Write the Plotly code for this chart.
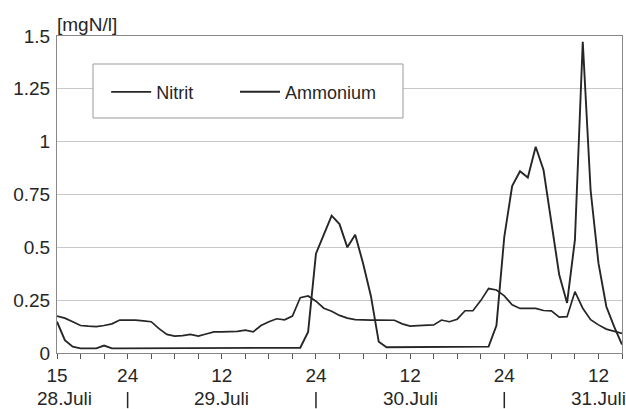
import plotly.graph_objects as go

# hours since 28.Juli 15:00
hours = list(range(0, 73))

nitrit = [0.175, 0.165, 0.148, 0.130, 0.127, 0.125, 0.130, 0.138, 0.156, 0.156,
          0.156, 0.152, 0.148, 0.115, 0.088, 0.080, 0.082, 0.088, 0.080, 0.090,
          0.100, 0.100, 0.100, 0.102, 0.108, 0.100, 0.130, 0.148, 0.162, 0.157,
          0.175, 0.262, 0.270, 0.245, 0.212, 0.198, 0.178, 0.165, 0.158, 0.156,
          0.156, 0.156, 0.156, 0.155, 0.138, 0.127, 0.130, 0.131, 0.133, 0.156,
          0.148, 0.160, 0.200, 0.200, 0.248, 0.305, 0.298, 0.270, 0.228, 0.211,
          0.211, 0.211, 0.201, 0.199, 0.170, 0.172, 0.290, 0.212, 0.158, 0.133,
          0.113, 0.102, 0.093]

ammonium = [0.148, 0.061, 0.030, 0.022, 0.022, 0.022, 0.035, 0.022, 0.022, 0.022,
            0.022, 0.022, 0.022, 0.022, 0.022, 0.022, 0.022, 0.022, 0.022, 0.022,
            0.022, 0.022, 0.022, 0.022, 0.022, 0.022, 0.022, 0.022, 0.022, 0.022,
            0.022, 0.025, 0.100, 0.470, 0.560, 0.650, 0.610, 0.500, 0.560, 0.425,
            0.270, 0.053, 0.027, 0.027, 0.027, 0.027, 0.027, 0.027, 0.027, 0.027,
            0.027, 0.027, 0.027, 0.027, 0.028, 0.030, 0.130, 0.550, 0.790, 0.860,
            0.830, 0.976, 0.866, 0.620, 0.370, 0.237, 0.535, 1.473, 0.770, 0.425,
            0.220, 0.125, 0.040]

x_tickvals = list(range(0, 73, 3))
x_labels = {0: "15", 9: "24", 21: "12", 33: "24", 45: "12", 57: "24", 69: "12"}
x_ticktext = [x_labels.get(v, "") for v in x_tickvals]

y_tickvals = [0, 0.25, 0.5, 0.75, 1, 1.25, 1.5]
y_ticktext = ["0", "0.25", "0.5", "0.75", "1", "1.25", "1.5"]

day_labels = ["28.Juli", "29.Juli", "30.Juli", "31.Juli"]
day_pos = [1, 21, 45, 69]
day_separators = [9, 33, 57]

ink = "#262626"
font = "Liberation Sans, Arial, sans-serif"

fig = go.Figure()
fig.add_trace(go.Scatter(x=hours, y=nitrit, mode="lines", name="Nitrit",
                         line=dict(color=ink, width=1.7), legend="legend"))
fig.add_trace(go.Scatter(x=hours, y=ammonium, mode="lines", name="Ammonium",
                         line=dict(color=ink, width=1.9), legend="legend2"))

legend_common = dict(orientation="h", y=0.823, xanchor="left", yanchor="middle",
                     bgcolor="rgba(0,0,0,0)", borderwidth=0, itemwidth=40,
                     font=dict(size=18, family=font, color=ink))

fig.update_layout(
    width=626, height=409,
    margin=dict(l=57, r=4, t=36, b=56),
    paper_bgcolor="white", plot_bgcolor="white",
    font=dict(family=font, color=ink, size=19),
    showlegend=True,
    legend=dict(x=0.087, **legend_common),
    legend2=dict(x=0.315, **legend_common),
)

fig.update_xaxes(range=[0, 72], tickvals=x_tickvals, ticktext=x_ticktext,
                 ticks="outside", ticklen=5, tickwidth=1, tickcolor="#555",
                 showgrid=False, showline=True, linecolor="#888", linewidth=1,
                 mirror=True, zeroline=False, tickfont=dict(size=19))
fig.update_yaxes(range=[0, 1.5], tickvals=y_tickvals, ticktext=y_ticktext,
                 ticks="", showgrid=True, gridcolor="#c8c8c8", gridwidth=1,
                 showline=True, linecolor="#888", linewidth=1, mirror=True,
                 zeroline=False, ticklabelstandoff=2, tickfont=dict(size=19))

# legend box
fig.add_shape(type="rect", xref="paper", yref="paper",
              x0=(93 - 57) / 565, x1=(403 - 57) / 565,
              y0=(353 - 118) / 317, y1=(353 - 64) / 317,
              line=dict(color="#999", width=1), fillcolor="white", layer="above")

# day labels and separators
for lab, pos in zip(day_labels, day_pos):
    fig.add_annotation(x=pos, y=-0.145, xref="x", yref="paper", text=lab,
                       showarrow=False, xanchor="center", yanchor="middle",
                       font=dict(size=19, family=font, color=ink))
for sep in day_separators:
    fig.add_shape(type="line", xref="x", yref="paper", x0=sep, x1=sep,
                  y0=-0.123, y1=-0.174, line=dict(color=ink, width=1.5))

fig.add_annotation(x=0, y=(353 - 24) / 317, xref="paper", yref="paper",
                   text="[mgN/l]", showarrow=False, xanchor="left", yanchor="middle",
                   xshift=-2, font=dict(size=19, family=font, color=ink))

fig.write_html("out.html", config={"displayModeBar": False},
               post_script="document.body.style.margin='0';document.body.style.overflow='hidden';")
